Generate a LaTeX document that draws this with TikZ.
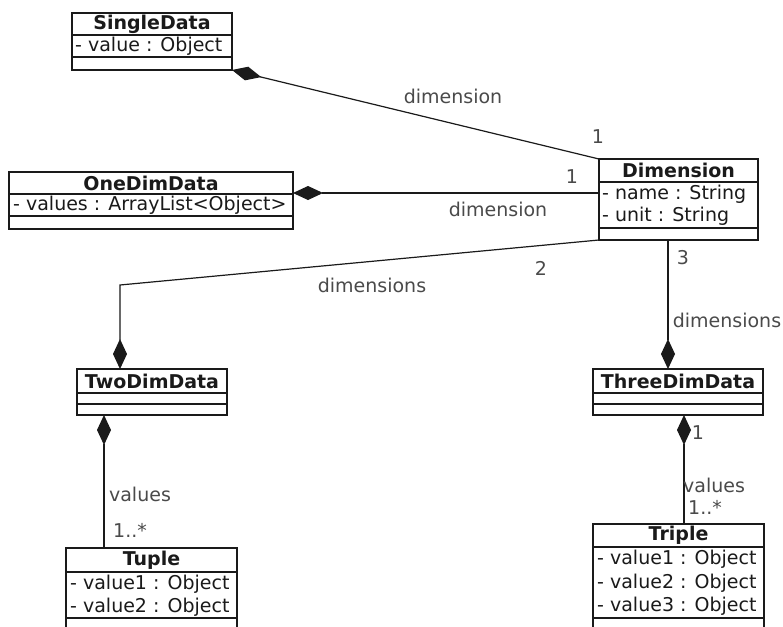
\documentclass[tikz,border=0pt]{standalone}
\usepackage{fontspec}
\setmainfont{DejaVu Sans}
\usetikzlibrary{arrows.meta}
\definecolor{labelgray}{HTML}{4A4A4A}
\definecolor{ink}{HTML}{1A1A1A}
\tikzset{
  x=1pt, y=-1pt,
  clsbox/.style={draw=ink, line width=1.3pt, fill=white, inner sep=0pt, outer sep=0pt, anchor=north west},
  divider/.style={draw=ink, line width=1.3pt},
  ctitle/.style={font=\fontsize{19}{21}\selectfont\bfseries, text=ink, inner sep=0pt, anchor=center},
  cattr/.style={font=\fontsize{19}{21}\selectfont, text=ink, inner sep=0pt, anchor=west},
  lbl/.style={font=\fontsize{19}{21}\selectfont, text=labelgray, inner sep=0pt, anchor=center},
  comp/.style={draw=ink, line width=1.2pt, -{Diamond[length=30pt,width=14pt]}},
}
\begin{document}
\begin{tikzpicture}
\clip (0,0) rectangle (783,626);
\fill[white] (0,0) rectangle (783,626);

% SingleData
\node[clsbox, minimum width=160pt, minimum height=57pt] (single) at (72,13) {};
\draw[divider] (72,35) -- (232,35);
\draw[divider] (72,57) -- (232,57);
\node[ctitle] (singleT) at (152,24) {SingleData};
\node[cattr] (singleA) at (75,46) {- value : Object};

% OneDimData
\node[clsbox, minimum width=284pt, minimum height=57pt] (onedim) at (9,172) {};
\draw[divider] (9,194) -- (293,194);
\draw[divider] (9,216) -- (293,216);
\node[ctitle] (onedimT) at (151,183) {OneDimData};
\node[cattr] (onedimA) at (13,205) {- values : ArrayList<Object>};

% Dimension
\node[clsbox, minimum width=159pt, minimum height=81pt] (dim) at (599,159) {};
\draw[divider] (599,182) -- (758,182);
\draw[divider] (599,228) -- (758,228);
\node[ctitle] (dimT) at (678.5,170.5) {Dimension};
\node[cattr] (dimA1) at (602,194) {- name : String};
\node[cattr] (dimA2) at (602,216.5) {- unit : String};

% TwoDimData
\node[clsbox, minimum width=150pt, minimum height=46pt] (twodim) at (77,369) {};
\draw[divider] (77,393) -- (227,393);
\draw[divider] (77,404) -- (227,404);
\node[ctitle] (twodimT) at (152,381) {TwoDimData};

% ThreeDimData
\node[clsbox, minimum width=170pt, minimum height=46pt] (threedim) at (593,369) {};
\draw[divider] (593,393) -- (763,393);
\draw[divider] (593,404) -- (763,404);
\node[ctitle] (threedimT) at (678,381) {ThreeDimData};

% Tuple
\node[clsbox, minimum width=171pt, minimum height=90pt] (tuple) at (66,548) {};
\draw[divider] (66,572) -- (237,572);
\draw[divider] (66,618) -- (237,618);
\node[ctitle] (tupleT) at (151.5,560) {Tuple};
\node[cattr] (tupleA1) at (70,584) {- value1 : Object};
\node[cattr] (tupleA2) at (70,607) {- value2 : Object};

% Triple
\node[clsbox, minimum width=171pt, minimum height=114pt] (triple) at (593,524) {};
\draw[divider] (593,547) -- (764,547);
\draw[divider] (593,618) -- (764,618);
\node[ctitle] (tripleT) at (678.5,535.5) {Triple};
\node[cattr] (tripleA1) at (597,559) {- value1 : Object};
\node[cattr] (tripleA2) at (597,583) {- value2 : Object};
\node[cattr] (tripleA3) at (597,606) {- value3 : Object};

% connector helper points
\coordinate (oneY) at (0,193);
\coordinate (bend) at (120,285);
\coordinate (threeX) at (668,0);
\coordinate (tupleX) at (104,0);
\coordinate (tripleX) at (684,0);

% compositions
\draw[comp] (dim.north west) -- (single.south east);
\draw[comp] (dim.west |- oneY) -- (onedim.east |- oneY);
\draw[comp] (dim.south west) -- (bend) -- (bend |- twodim.north);
\draw[comp] (dim.south -| threeX) -- (threedim.north -| threeX);
\draw[comp] (tuple.north -| tupleX) -- (twodim.south -| tupleX);
\draw[comp] (triple.north -| tripleX) -- (threedim.south -| tripleX);

% association labels
\node[lbl] (l1) at (453,96) {dimension};
\node[lbl] (l2) at (598,137) {1};
\node[lbl] (l3) at (572,177) {1};
\node[lbl] (l4) at (498,209) {dimension};
\node[lbl] (l5) at (541,268) {2};
\node[lbl] (l6) at (372,285) {dimensions};
\node[lbl] (l7) at (683,258) {3};
\node[lbl] (l8) at (727,320) {dimensions};
\node[lbl] (l9) at (140,494) {values};
\node[lbl] (l10) at (130,530) {1..*};
\node[lbl] (l11) at (698,433) {1};
\node[lbl] (l12) at (714,485) {values};
\node[lbl] (l13) at (705,507) {1..*};
\end{tikzpicture}
\end{document}
